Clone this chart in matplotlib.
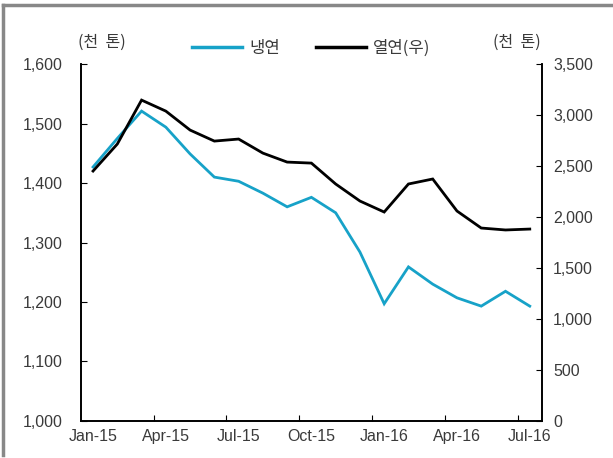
import matplotlib
matplotlib.use("Agg")
import matplotlib.pyplot as plt
from matplotlib.lines import Line2D

plt.rcParams['font.family'] = ['Liberation Sans', 'Noto Sans CJK KR', 'DejaVu Sans']

months = ['Jan-15', 'Feb-15', 'Mar-15', 'Apr-15', 'May-15', 'Jun-15', 'Jul-15',
          'Aug-15', 'Sep-15', 'Oct-15', 'Nov-15', 'Dec-15', 'Jan-16', 'Feb-16',
          'Mar-16', 'Apr-16', 'May-16', 'Jun-16', 'Jul-16']
cold_rolled = [1427, 1475, 1521, 1494, 1449, 1410, 1403, 1383, 1360, 1376,
               1350, 1284, 1197, 1259, 1230, 1207, 1193, 1218, 1193]
hot_rolled = [2451, 2716, 3147, 3039, 2853, 2745, 2765, 2627, 2539, 2529,
              2324, 2157, 2049, 2324, 2373, 2059, 1892, 1873, 1882]

left_ticks = [1000, 1100, 1200, 1300, 1400, 1500, 1600]
right_ticks = [0, 500, 1000, 1500, 2000, 2500, 3000, 3500]

blue = '#17a2c8'
txt = '#3a3a3a'
kr = ['Noto Sans CJK KR', 'DejaVu Sans']

fig = plt.figure(figsize=(6.13, 4.58), dpi=100)
ax = fig.add_axes([0.132, 0.081, 0.752, 0.779])
ax2 = ax.twinx()

x = list(range(len(months)))
ax.plot(x, cold_rolled, color=blue, lw=2.0, solid_joinstyle='miter')
ax2.plot(x, hot_rolled, color='black', lw=2.0, solid_joinstyle='miter')

ax.set_xlim(-0.5, len(months) - 0.5)
ax.set_ylim(1000, 1600)
ax2.set_ylim(0, 3500)

ax.set_yticks(left_ticks)
ax.set_yticklabels([f'{v:,}' for v in left_ticks])
ax2.set_yticks(right_ticks)
ax2.set_yticklabels([f'{v:,}' for v in right_ticks])

# category axis: boundary ticks every 3 months, labels centred on months
ax.set_xticks([i - 0.5 for i in range(3, len(months), 3)])
ax.set_xticklabels([])
ax.set_xticks(x[::3], minor=True)
ax.set_xticklabels(months[::3], minor=True)
ax.tick_params(axis='x', which='minor', length=0, pad=6, labelsize=11.5, labelcolor=txt)
ax.tick_params(axis='x', which='major', direction='in', length=4)

ax.tick_params(axis='y', direction='in', length=4, pad=13, labelsize=11.5, labelcolor=txt)
ax2.tick_params(axis='y', direction='in', length=4, pad=8, labelsize=11.5, labelcolor=txt)

for a in (ax, ax2):
    a.spines['top'].set_visible(False)
    for s in ('left', 'right', 'bottom'):
        a.spines[s].set_linewidth(1.2)

# units
fig.text(0.127, 0.908, '(천  톤)', fontsize=11.5, color=txt, ha='left', va='center', family=kr)
fig.text(0.882, 0.908, '(천  톤)', fontsize=11.5, color=txt, ha='right', va='center', family=kr)

# legend
handles = [Line2D([], [], color=blue, lw=2.5), Line2D([], [], color='black', lw=2.5)]
leg = fig.legend(handles, ['냉연', '열연(우)'], loc='center', bbox_to_anchor=(0.508, 0.895),
                 ncol=2, frameon=False, handlelength=3.0, handletextpad=0.4,
                 columnspacing=2.2, prop={'family': kr, 'size': 12})
for t in leg.get_texts():
    t.set_color(txt)

# partial frame around the picture
fig.add_artist(Line2D([0.005, 1.0], [0.989, 0.989], color='#888888', lw=2.5, transform=fig.transFigure))
fig.add_artist(Line2D([0.005, 0.005], [0.006, 0.989], color='#888888', lw=2.5, transform=fig.transFigure))

fig.savefig('out.png', dpi=100)
